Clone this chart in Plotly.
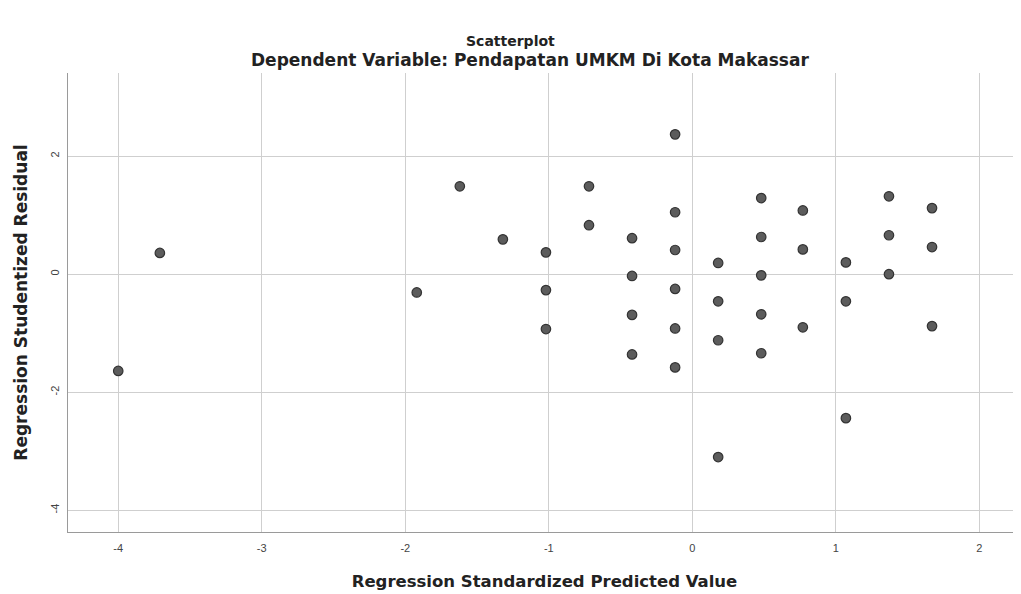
import plotly.graph_objects as go

# Regression Standardized Predicted Value (x) and Studentized Residual (y)
pred = [-4.00, -3.71, -1.92, -1.62, -1.32,
        -1.02, -1.02, -1.02,
        -0.72, -0.72,
        -0.42, -0.42, -0.42, -0.42,
        -0.12, -0.12, -0.12, -0.12, -0.12, -0.12,
        0.18, 0.18, 0.18, 0.18,
        0.48, 0.48, 0.48, 0.48, 0.48,
        0.77, 0.77, 0.77,
        1.07, 1.07, 1.07,
        1.37, 1.37, 1.37,
        1.67, 1.67, 1.67]
resid = [-1.64, 0.36, -0.31, 1.49, 0.59,
         0.37, -0.27, -0.93,
         1.49, 0.83,
         0.61, -0.03, -0.69, -1.36,
         2.37, 1.05, 0.41, -0.25, -0.92, -1.58,
         0.19, -0.46, -1.12, -3.10,
         1.29, 0.63, -0.02, -0.68, -1.34,
         1.08, 0.42, -0.90,
         0.20, -0.46, -2.44,
         1.32, 0.66, 0.00,
         1.12, 0.46, -0.88]

x_ticks = [-4, -3, -2, -1, 0, 1, 2]
y_ticks = [-4, -2, 0, 2]

title_text = "Scatterplot"
subtitle_text = "Dependent Variable: Pendapatan UMKM Di Kota Makassar"
x_title = "Regression Standardized Predicted Value"
y_title = "Regression Studentized Residual"

FONT = "Liberation Sans, Arial, sans-serif"
TFONT = "DejaVu Sans, Verdana, sans-serif"

fig = go.Figure()
fig.add_trace(go.Scatter(
    x=pred, y=resid, mode="markers",
    marker=dict(size=9.5, color="#5c5c5c", line=dict(color="#333333", width=1.2)),
    showlegend=False,
))

# page body has an 8px margin, so the figure is made 8px smaller
W, H = 1013, 586
ML, MT, MB = 60, 65, 62
H_PLOT = H - MT - MB
W_PLOT = W - ML
fig.update_layout(
    width=W, height=H,
    margin=dict(l=ML, r=0, t=MT, b=MB),
    paper_bgcolor="white", plot_bgcolor="white",
    font=dict(family=FONT, color="#222222"),
    annotations=[
        dict(text=f"<b>{title_text}</b>", xref="paper", yref="paper",
             x=(510 - 68) / W_PLOT, y=1 + (73 - 41) / H_PLOT,
             xanchor="center", yanchor="middle", showarrow=False,
             font=dict(family=TFONT, size=14, color="#222222")),
        dict(text=f"<b>{subtitle_text}</b>", xref="paper", yref="paper",
             x=(530 - 68) / W_PLOT, y=1 + (73 - 60) / H_PLOT,
             xanchor="center", yanchor="middle", showarrow=False,
             font=dict(family=TFONT, size=17, color="#222222")),
    ],
)

fig.update_xaxes(
    range=[-4.35, 2.29], tickvals=x_ticks, ticktext=[str(v) for v in x_ticks],
    showgrid=True, gridcolor="#cfcfcf", gridwidth=1,
    zeroline=False, showline=True, linecolor="#9a9a9a", linewidth=1,
    ticks="", ticklabelstandoff=6, automargin=False,
    tickfont=dict(family=FONT, size=11, color="#444444"),
    title=dict(text=f"<b>{x_title}</b>", standoff=22,
               font=dict(family=TFONT, size=16.5, color="#222222")),
)
fig.update_yaxes(
    range=[-4.37, 3.41], tickvals=y_ticks, ticktext=[str(v) for v in y_ticks],
    showgrid=True, gridcolor="#cfcfcf", gridwidth=1,
    zeroline=False, showline=True, linecolor="#9a9a9a", linewidth=1,
    ticks="", tickangle=-90, ticklabelstandoff=4, automargin=False,
    tickfont=dict(family=FONT, size=11, color="#444444"),
    title=dict(text=f"<b>{y_title}</b>", standoff=16,
               font=dict(family=TFONT, size=17, color="#222222")),
)

fig.write_html("out.html")
